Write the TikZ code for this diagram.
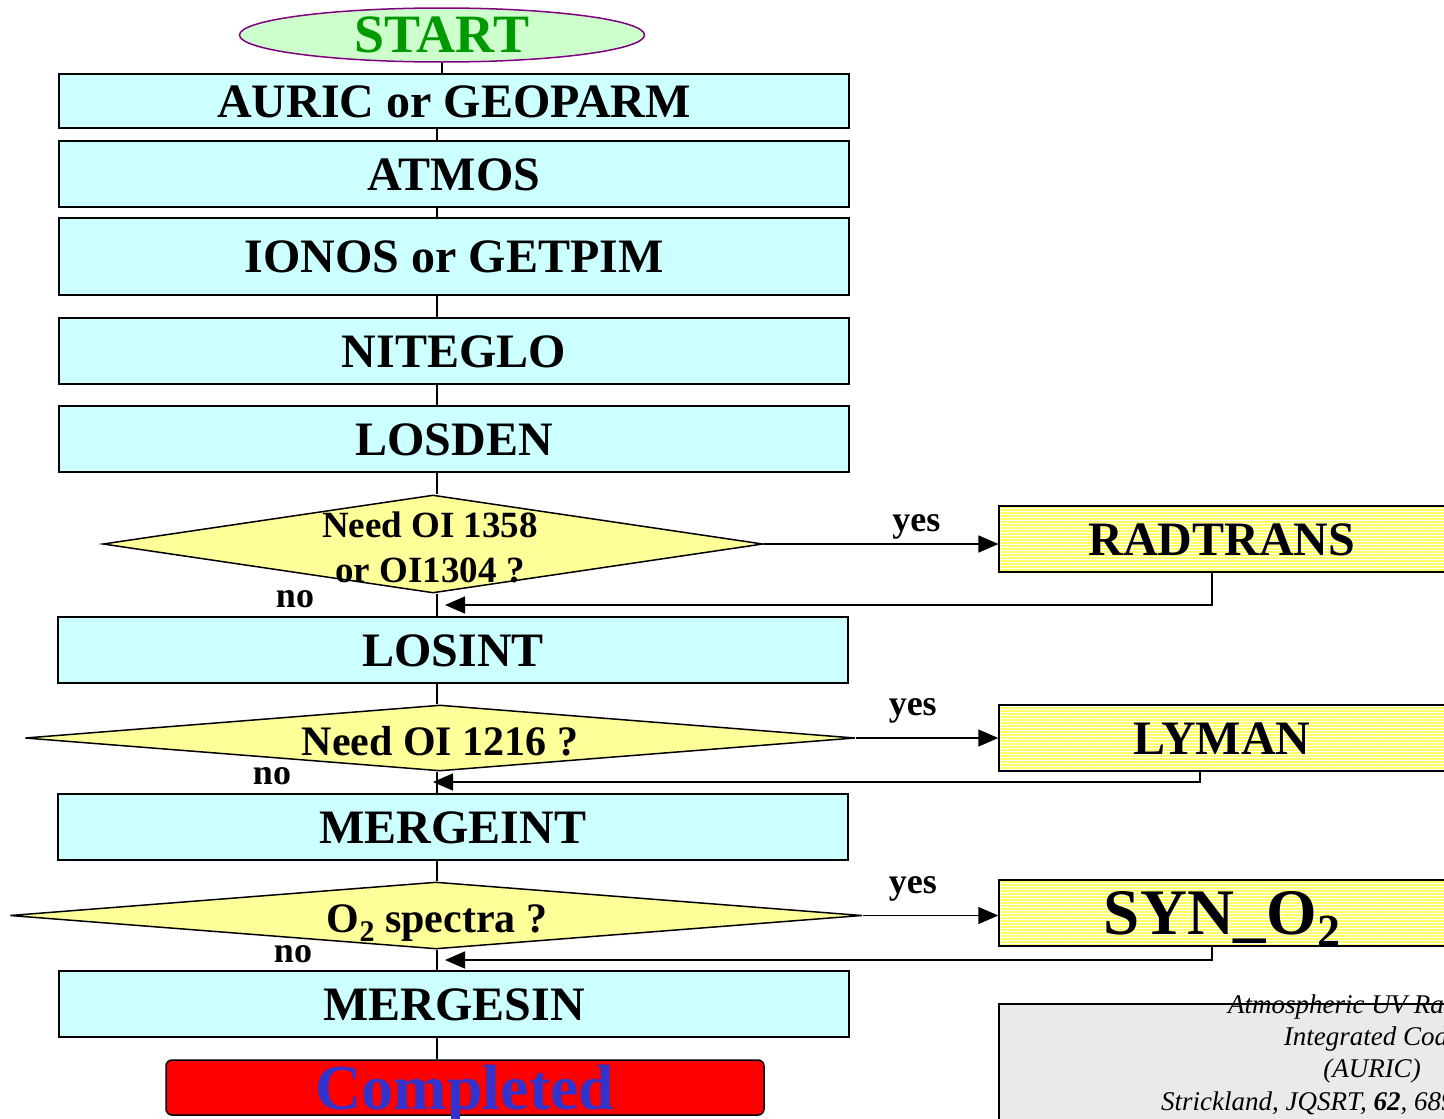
\documentclass[tikz,border=0pt]{standalone}
\usepackage{fontspec}
\setmainfont{Liberation Serif}
\usepackage{tikz}
\usetikzlibrary{shapes.geometric,arrows.meta,patterns.meta}

\definecolor{boxcyan}{HTML}{CCFFFF}
\definecolor{askyellow}{HTML}{FFFF99}
\definecolor{startfill}{HTML}{CCFFCC}
\definecolor{startink}{HTML}{009900}
\definecolor{startrim}{HTML}{800080}
\definecolor{doneblue}{HTML}{3333CC}
\definecolor{notegray}{HTML}{EAEAEA}
\definecolor{stripe}{HTML}{FFFF55}

\newcommand{\lowtwo}[2]{\raisebox{-#2pt}{\fontsize{#1}{#1}\selectfont 2}}

\begin{document}
\begin{tikzpicture}[x=1pt,y=-1pt,line width=1.5pt,
    stage/.style={draw,fill=boxcyan,minimum width=790pt,minimum height=66pt,inner sep=0pt,
      text height=32pt,text depth=0pt,font=\bfseries\fontsize{48}{50}\selectfont},
    ask/.style={draw,diamond,fill=askyellow,inner sep=0pt},
    asktext/.style={inner sep=0pt,font=\bfseries\fontsize{42}{45}\selectfont},
    side/.style={draw,pattern={Lines[angle=0,distance=3pt,line width=1.1pt]},pattern color=stripe,
      minimum width=446pt,minimum height=66pt,inner sep=0pt,text depth=0pt},
    flow/.style={-{Triangle[length=20pt,width=17pt]}},
    answer/.style={inner sep=2pt,font=\bfseries\fontsize{36}{36}\selectfont},
  ]
  \useasboundingbox (0,0) rectangle (1444,1119);
  \clip (0,0) rectangle (1444,1119);

  \coordinate (spine) at (437,0);

  \node[ellipse,draw=startrim,fill=startfill,minimum width=405pt,minimum height=54pt,inner sep=0pt,
    text=startink,font=\bfseries\fontsize{54}{54}\selectfont] (start) at (442,35) {START};

  \node[stage,minimum height=54pt] (auric) at (454,101) {AURIC or GEOPARM};
  \node[stage] (atmos) at (454,174) {ATMOS};
  \node[stage,minimum height=77pt] (ionos) at (454,256.5) {IONOS or GETPIM};
  \node[stage] (niteglo) at (454,351) {NITEGLO};
  \node[stage] (losden) at (454,439) {LOSDEN};

  \node[ask,minimum width=660pt,minimum height=98pt] (ask1) at (433,544) {};
  \node[asktext,align=center,anchor=base,font=\bfseries\fontsize{37}{45}\selectfont] (ask1txt) at (430,582) {Need OI 1358\\or OI1304 ?};

  \node[stage] (losint) at (453,650) {LOSINT};

  \node[ask,minimum width=830pt,minimum height=66pt] (ask2) at (440,738) {};
  \node[asktext,anchor=base] (ask2txt) at (440,755) {Need OI 1216 ?};

  \node[stage] (mergeint) at (453,827) {MERGEINT};

  \node[ask,minimum width=852pt,minimum height=67pt] (ask3) at (436,915.5) {};
  \node[asktext,anchor=base] (ask3txt) at (437,932) {O\lowtwo{30}{9} spectra ?};

  \node[stage] (mergesin) at (454,1004) {MERGESIN};

  \node[draw,fill=red,rounded corners=6pt,minimum width=598pt,minimum height=55pt,inner sep=0pt,
    text=doneblue,text height=43pt,text depth=0pt,font=\bfseries\fontsize{64}{64}\selectfont] (done) at (465,1087.5) {Completed};

  % side branches
  \node[side,text height=32pt,font=\bfseries\fontsize{48}{50}\selectfont] (radtrans) at (1222,539) {RADTRANS};
  \node[side,text height=32pt,font=\bfseries\fontsize{48}{50}\selectfont] (lyman) at (1222,738) {LYMAN};
  \node[side,text height=43pt,font=\bfseries\fontsize{65}{65}\selectfont] (synotwo) at (1222,913) {SYN\_O\lowtwo{46}{12}};

  \coordinate (back1) at (445,605);
  \coordinate (back2) at (433,782);
  \coordinate (back3) at (445,960);

  % main line
  \draw (start) -- (start |- auric.north);
  \draw (auric.south -| spine) -- (atmos.north -| spine);
  \draw (atmos.south -| spine) -- (ionos.north -| spine);
  \draw (ionos.south -| spine) -- (niteglo.north -| spine);
  \draw (niteglo.south -| spine) -- (losden.north -| spine);
  \draw (losden.south -| spine) -- (ask1.north -| spine);
  \draw (ask1.south -| spine) -- (losint.north -| spine);
  \draw (losint.south -| spine) -- (ask2.north -| spine);
  \draw (ask2.south -| spine) -- (mergeint.north -| spine);
  \draw (mergeint.south -| spine) -- (ask3.north -| spine);
  \draw (ask3.south -| spine) -- (mergesin.north -| spine);
  \draw (mergesin.south -| spine) -- (done.north -| spine);

  % yes / no
  \draw[flow] (ask1.east) -- node[answer,pos=0.65,above=2pt] (yes1) {yes} (ask1.east -| radtrans.west);
  \draw[flow] (ask2.east) -- node[answer,pos=0.4,above=12pt] (yes2) {yes} (ask2.east -| lyman.west);
  \draw[flow] (ask3.east) -- node[answer,pos=0.37,above=11pt] (yes3) {yes} (ask3.east -| synotwo.west);

  \draw[flow] ([xshift=-10pt]radtrans.south) |- (back1);
  \draw[flow] ([xshift=-22pt]lyman.south) |- (back2);
  \draw[flow] ([xshift=-10pt]synotwo.south) |- (back3);

  \node[answer,anchor=base] (no1) at (295,607) {no};
  \node[answer,anchor=base] (no2) at (272,784) {no};
  \node[answer,anchor=base] (no3) at (293,962) {no};

  % reference
  \node[draw,fill=notegray,minimum width=462pt,minimum height=132pt,inner sep=0pt] (note) at (1230,1070) {};
  \node[align=center,anchor=base,inner sep=0pt,font=\itshape\fontsize{27}{32.3}\selectfont] (notetxt) at (1372,1110)
    {Atmospheric UV Radiance\\Integrated Code\\(AURIC)\\Strickland, JQSRT, \textbf{62}, 689-742 (1999)};
\end{tikzpicture}
\end{document}
